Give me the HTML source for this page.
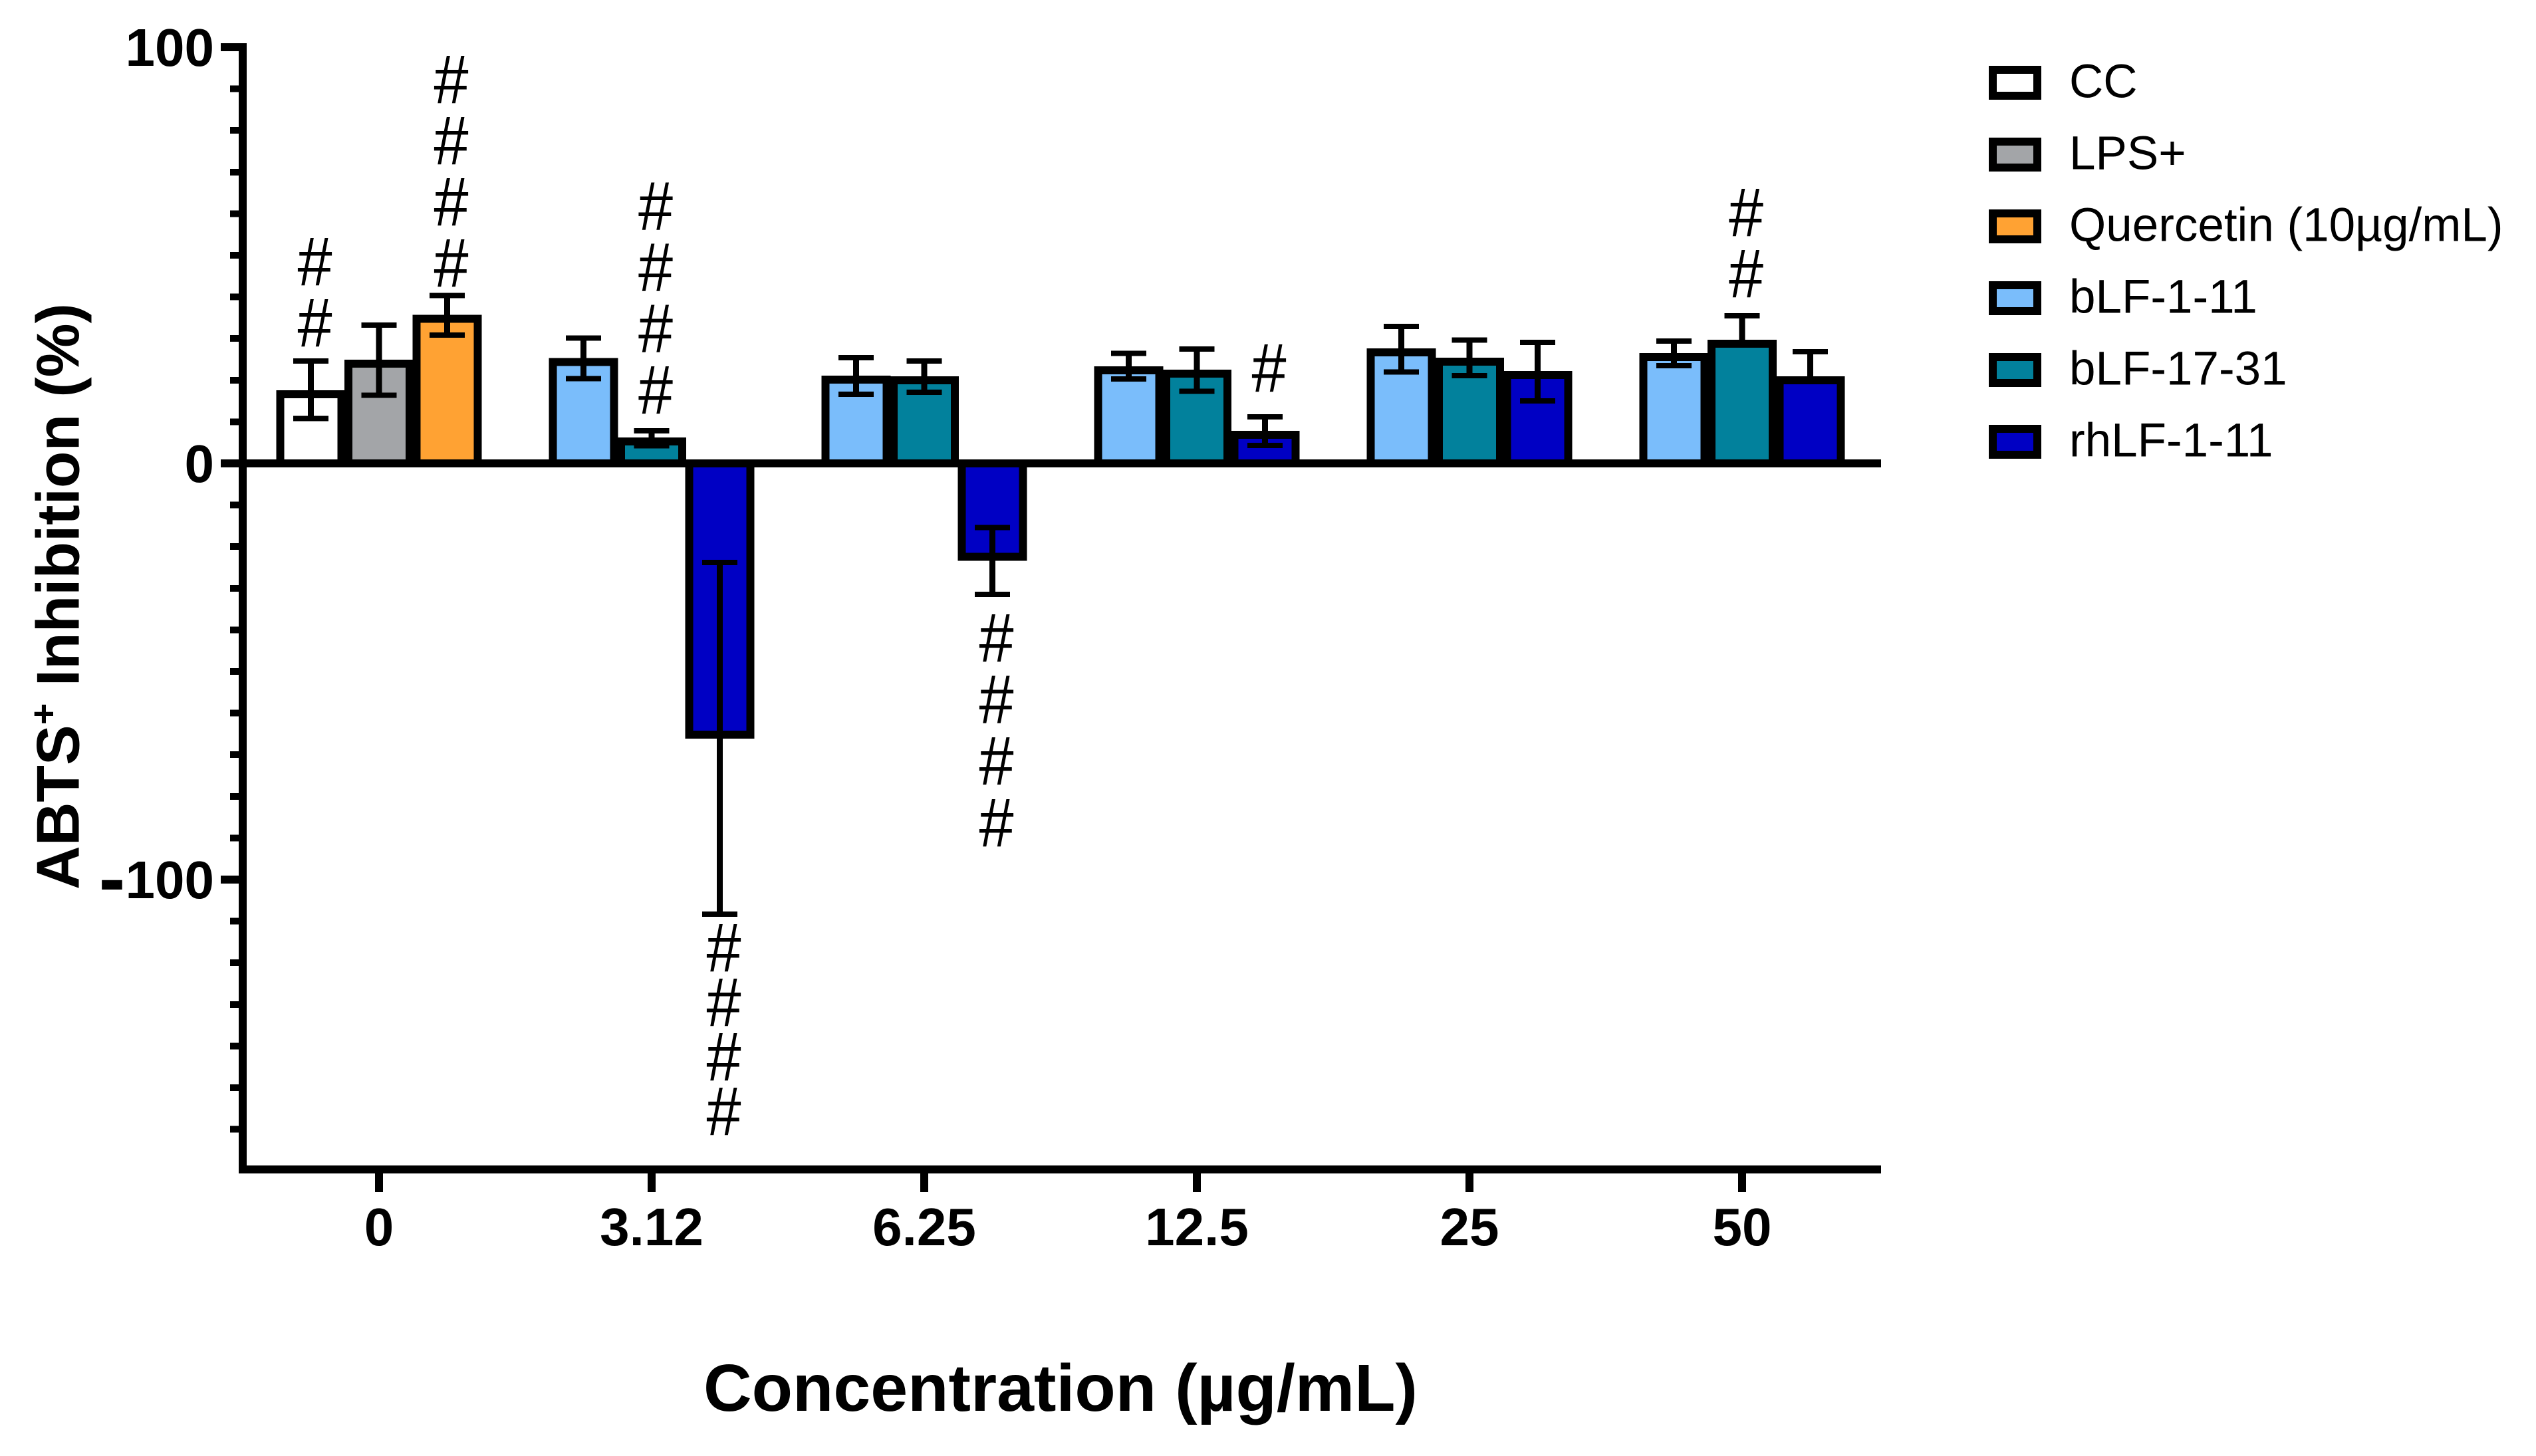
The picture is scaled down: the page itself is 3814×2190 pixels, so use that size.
<!DOCTYPE html>
<html lang="en">
<head>
<meta charset="utf-8">
<title>ABTS+ Inhibition by Concentration</title>
<style>
html,body{margin:0;padding:0;background:#fff;width:3814px;height:2190px;overflow:hidden}
svg{display:block}
text{font-family:"Liberation Sans",Arial,sans-serif;fill:#000}
.b{font-weight:700}
</style>
</head>
<body>
<svg id="chart" xmlns="http://www.w3.org/2000/svg" width="3814" height="2190" viewBox="0 0 3814 2190">
  <rect x="0" y="0" width="3814" height="2190" fill="#fff"/>
  <g id="bars"></g>
  <g id="errors"></g>
  <g id="axes"></g>
  <g id="hashes"></g>
  <text class="b" transform="translate(118.6,1338) rotate(-90)" font-size="91">ABTS<tspan dy="-34" font-size="56">+</tspan><tspan dy="34"> Inhibition (%)</tspan></text>
  <text class="b" x="1595" y="2122" font-size="100.5" text-anchor="middle">Concentration (µg/mL)</text>
  <g id="legend"></g>
</svg>
<script>
const categories = ["0", "3.12", "6.25", "12.5", "25", "50"];
const seriesNames = ["CC", "LPS+", "Quercetin (10µg/mL)", "bLF-1-11", "bLF-17-31", "rhLF-1-11"];
const seriesColors = ["#ffffff", "#a3a5a8", "#ffa233", "#7abdfb", "#02819c", "#0000c4"];

const ccValues = [17.6, null, null, null, null, null];
const lpsValues = [24.9, null, null, null, null, null];
const quercetinValues = [35.7, null, null, null, null, null];
const blf111Values = [null, 25.3, 21.1, 23.3, 27.6, 26.5];
const blf1731Values = [null, 6.2, 20.9, 22.5, 25.4, 29.7];
const rhlf111Values = [null, -66.1, -23.4, 7.8, 22.2, 20.9];

const ccUpper = [24.6, null, null, null, null, null];
const lpsUpper = [33.2, null, null, null, null, null];
const quercetinUpper = [40.3, null, null, null, null, null];
const blf111Upper = [null, 30.1, 25.4, 26.4, 32.9, 29.4];
const blf1731Upper = [null, 7.8, 24.6, 27.5, 29.6, 35.5];
const rhlf111Upper = [null, -23.8, -15.4, 11.2, 29.1, 26.8];

const ccLower = [10.8, null, null, null, null, null];
const lpsLower = [16.4, null, null, null, null, null];
const quercetinLower = [30.8, null, null, null, null, null];
const blf111Lower = [null, 20.4, 16.6, 20.3, 22, 23.5];
const blf1731Lower = [null, 4.2, 17.1, 17.3, 21.1, null];
const rhlf111Lower = [null, -108.3, -31.5, 4.3, 15, null];

const yMajorTicks = [100, 0, -100];
const yTickLabels = ["100", "0", "-100"];
const yMinorTicks = [90, 80, 70, 60, 50, 40, 30, 20, 10, -10, -20, -30, -40, -50, -60, -70, -80, -90, -110, -120, -130, -140, -150, -160];

const hashGroups = [0, 0, 1, 1, 2, 3, 5];
const hashSeries = [0, 2, 4, 5, 5, 5, 4];
const hashCounts = [2, 4, 4, 4, 4, 1, 2];
const hashAnchorValues = [28.6, 43, 12.5, -121.6, -47.1, 17.7, 40.4];
const hashStepValues = [14.7, 14.7, 14.7, -13.1, -14.8, 14.7, 14.7];

const allValues = [ccValues, lpsValues, quercetinValues, blf111Values, blf1731Values, rhlf111Values];
const allUpper = [ccUpper, lpsUpper, quercetinUpper, blf111Upper, blf1731Upper, rhlf111Upper];
const allLower = [ccLower, lpsLower, quercetinLower, blf111Lower, blf1731Lower, rhlf111Lower];

const NS = "http://www.w3.org/2000/svg";
const plot = { x0: 365, xEnd: 2829, yZero: 697, yScale: 6.26, yBottom: 1759, yTop: 71, group0: 570, groupStep: 410, barStep: 102.5, barW: 104, border: 12, capW: 53, capH: 8, stemW: 9 };

function yPos(v) { return plot.yZero - v * plot.yScale; }
function groupX(g) { return plot.group0 + g * plot.groupStep; }
function barX(g, s) { return groupX(g) + ((s % 3) - 1) * plot.barStep; }

function mk(tag, attrs, parent) {
  const el = document.createElementNS(NS, tag);
  for (const k in attrs) el.setAttribute(k, attrs[k]);
  parent.appendChild(el);
  return el;
}
function box(parent, x, y, w, h) {
  return mk("rect", { x: x, y: y, width: w, height: h, fill: "#000", "shape-rendering": "crispEdges" }, parent);
}

const barsG = document.getElementById("bars");
const errG = document.getElementById("errors");
const axesG = document.getElementById("axes");
const hashG = document.getElementById("hashes");
const legendG = document.getElementById("legend");

allValues.forEach(function (vals, s) {
  vals.forEach(function (v, g) {
    if (v === null) return;
    const cx = barX(g, s);
    const yv = yPos(v);
    const top = Math.min(yv, plot.yZero);
    const bot = Math.max(yv, plot.yZero);
    const bar = mk("rect", {
      x: cx - plot.barW / 2 + plot.border / 2,
      y: top + (v >= 0 ? plot.border / 2 : 0),
      width: plot.barW - plot.border,
      height: bot - top - plot.border / 2,
      fill: seriesColors[s],
      stroke: "#000",
      "stroke-width": plot.border,
      "shape-rendering": "crispEdges"
    }, barsG);
    
    

    const up = allUpper[s][g];
    const lo = allLower[s][g];
    const yA = yPos(up);
    const yB = lo === null ? yv : yPos(lo);
    const stem = box(errG, cx - plot.stemW / 2, yA, plot.stemW, yB - yA);
    
    
    const capU = box(errG, cx - plot.capW / 2, yA - plot.capH / 2, plot.capW, plot.capH);
    
    
    if (lo !== null) {
      const capL = box(errG, cx - plot.capW / 2, yB - plot.capH / 2, plot.capW, plot.capH);
      
      
    }
  });
});

const yAxisLine = box(axesG, plot.x0 - 6, plot.yTop - 6, 12, plot.yBottom + 6 - plot.yTop + 6);


const xAxisLine = box(axesG, plot.x0 - 6, plot.yBottom - 6, plot.xEnd - plot.x0 + 6, 12);


const zeroLine = box(axesG, 332, plot.yZero - 6, plot.xEnd - 332, 12);



yMajorTicks.forEach(function (v, i) {
  const tick = box(axesG, 332, yPos(v) - 6, 30, 12);
  
  
  const lab = mk("text", { x: 322, y: yPos(v) + 28, "font-size": 80, "font-weight": 700, "text-anchor": "end" }, axesG);
  const label = yTickLabels[i];
  if (label.charAt(0) === "-") {
    const sign = mk("tspan", { "font-size": 120, dy: 11 }, lab);
    sign.textContent = "-";
    const digits = mk("tspan", { dy: -11 }, lab);
    digits.textContent = label.slice(1);
  } else {
    lab.textContent = label;
  }
  
  
});
yMinorTicks.forEach(function (v) {
  const tick = box(axesG, 346, yPos(v) - 5, 16, 10);
  
  
});
categories.forEach(function (c, g) {
  const tick = box(axesG, groupX(g) - 6, plot.yBottom, 12, 34);
  
  
  const lab = mk("text", { x: groupX(g), y: 1873, "font-size": 80, "font-weight": 700, "text-anchor": "middle" }, axesG);
  lab.textContent = c;
  
  
});

hashGroups.forEach(function (g, i) {
  const cx = barX(g, hashSeries[i]) + 6;
  for (let k = 0; k < hashCounts[i]; k++) {
    const y = yPos(hashAnchorValues[i] + k * hashStepValues[i]) + 3;
    const t = mk("text", { transform: "translate(" + cx + "," + y + ") scale(0.9,1)", "font-size": 104, "text-anchor": "middle" }, hashG);
    t.textContent = "#";
    
    
  }
});

seriesNames.forEach(function (name, i) {
  const top = 99 + i * 108;
  const sw = mk("rect", { x: 2997, y: top + 6, width: 67, height: 39, fill: seriesColors[i], stroke: "#000", "stroke-width": 12, "shape-rendering": "crispEdges" }, legendG);
  
  
  const t = mk("text", { x: 3112, y: top + 47.5, "font-size": 71 }, legendG);
  t.textContent = name;
  
  
});
</script>
</body>
</html>
